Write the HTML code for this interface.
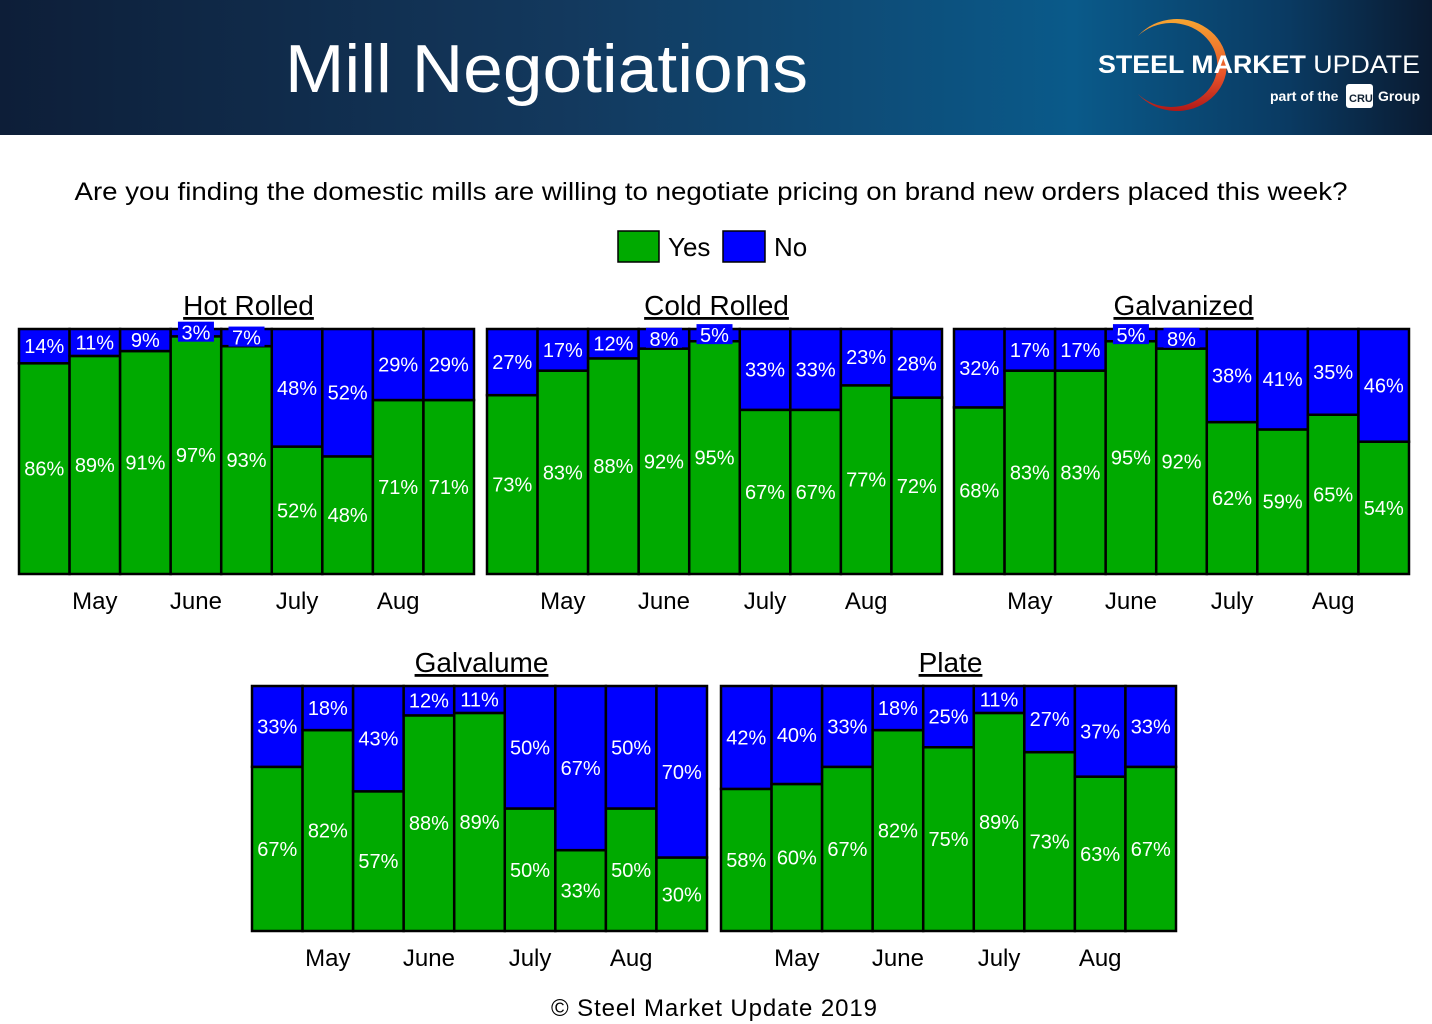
<!DOCTYPE html>
<html><head><meta charset="utf-8"><style>
body{margin:0;width:1432px;height:1024px;background:#fff;font-family:"Liberation Sans",sans-serif;overflow:hidden;position:relative}
#hdr{position:absolute;left:0;top:0;width:1432px;height:135px;background:linear-gradient(90deg,#0d1e38 0%,#13395e 40%,#0a5a8a 75%,#0a3a62 90%,#0a1a30 100%)}
</style></head><body>
<div id="hdr">
<svg width="900" height="135" style="position:absolute;left:0;top:0">
<text x="285" y="92" fill="#fff" font-size="68" textLength="523" lengthAdjust="spacingAndGlyphs">Mill Negotiations</text>
</svg>
<svg width="360" height="135" style="position:absolute;left:1072px;top:0">
<defs><linearGradient id="lg" x1="0" y1="0" x2="0" y2="1"><stop offset="0" stop-color="#f7a531"/><stop offset="0.6" stop-color="#e8542a"/><stop offset="1" stop-color="#b01818"/></linearGradient></defs>
<path d="M66 36 A50 46 0 1 1 66 94 A46 42 0 1 0 66 36 Z" fill="url(#lg)"/>
<text x="26" y="73" fill="#fff" font-size="25" font-weight="bold" textLength="322" lengthAdjust="spacingAndGlyphs">STEEL MARKET <tspan font-weight="normal">UPDATE</tspan></text>
<text x="198" y="101" fill="#fff" font-size="14" font-weight="bold">part of the</text>
<rect x="274" y="84" width="27" height="24" rx="3" fill="#fff"/>
<text x="277" y="102" fill="#123" font-size="11" font-weight="bold">CRU</text>
<text x="306" y="101" fill="#fff" font-size="14" font-weight="bold">Group</text>
</svg>
</div>
<svg id="main" width="1432" height="1024" style="position:absolute;left:0;top:0"></svg>
<script>
const months=["May","June","July","Aug"];
const titles=["Hot Rolled","Cold Rolled","Galvanized","Galvalume","Plate"];
const yesHR=[86,89,91,97,93,52,48,71,71];
const noHR=[14,11,9,3,7,48,52,29,29];
const yesCR=[73,83,88,92,95,67,67,77,72];
const noCR=[27,17,12,8,5,33,33,23,28];
const yesGV=[68,83,83,95,92,62,59,65,54];
const noGV=[32,17,17,5,8,38,41,35,46];
const yesGL=[67,82,57,88,89,50,33,50,30];
const noGL=[33,18,43,12,11,50,67,50,70];
const yesPL=[58,60,67,82,75,89,73,63,67];
const noPL=[42,40,33,18,25,11,27,37,33];
const yesAll=[yesHR,yesCR,yesGV,yesGL,yesPL];
const noAll=[noHR,noCR,noGV,noGL,noPL];
const frames=[[19,329],[487,329],[954,329],[252,686],[721,686]];
const W=455,H=245;
const NS="http://www.w3.org/2000/svg";
const svg=document.getElementById('main');
function mk(t,a,p){const e=document.createElementNS(NS,t);for(const k in a)e.setAttribute(k,a[k]);(p||svg).appendChild(e);return e;}
function txt(x,y,s,size,p,anchor){const e=mk('text',{x:x,y:y,'font-size':size,'text-anchor':anchor||'middle',fill:'#000'},p);e.textContent=s;return e;}
let t=txt(711,200,"Are you finding the domestic mills are willing to negotiate pricing on brand new orders placed this week?",25);
t.setAttribute('textLength','1273');
t.setAttribute('lengthAdjust','spacingAndGlyphs');


let lg=mk('g',{});


let le1=mk('g',{},lg);


mk('rect',{x:618,y:231,width:41,height:31,fill:'#00aa00',stroke:'#000','stroke-width':1.5},le1);
txt(668,256,"Yes",26,le1,'start');
let le2=mk('g',{},lg);


mk('rect',{x:723,y:231,width:42,height:31,fill:'#0000ff',stroke:'#000','stroke-width':1.5},le2);
txt(774,256,"No",26,le2,'start');
t=txt(714,1016,"© Steel Market Update 2019",24);
t.setAttribute('textLength','326');


for(let c=0;c<5;c++){
  const [x0,y0]=frames[c];const yes=yesAll[c],no=noAll[c];const n=yes.length;const bw=W/n;
  const g=mk('g',{});
  
  
  const y=v=>y0+H-v/100*H;
  const labels=[];
  for(let i=0;i<n;i++){
    const bx=x0+i*bw;
    const tot=yes[i]+no[i];
    const yv=yes[i]/tot*100;
    const r1=mk('rect',{x:bx,y:y(yv),width:bw,height:y0+H-y(yv),fill:'#00aa00',stroke:'#000','stroke-width':2.5},g);
    
    
    const r2=mk('rect',{x:bx,y:y0,width:bw,height:y(yv)-y0,fill:'#0000ff',stroke:'#000','stroke-width':2.5},g);
    
    
    labels.push([bx+bw/2,(y(yv)+y0+H)/2,(y0+y(yv))/2,y(yv)-y0,yes[i],no[i]]);
  }
  mk('rect',{x:x0,y:y0,width:W,height:H,fill:'none',stroke:'#000','stroke-width':2},g);
  for(const [cx,gy,by,bh,yv,nv] of labels){
    const l1=txt(cx,gy+7,yv+"%",20,g);l1.setAttribute('fill','#fff');
    
    
    if(bh<22){mk('rect',{x:cx-18,y:by-11,width:36,height:20,fill:'#0000ff'},g);}
    const l2=txt(cx,by+7,nv+"%",20,g);l2.setAttribute('fill','#fff');
    
    
  }
  for(let m=0;m<months.length;m++){
    const ml=txt(x0+(1.5+2*m)*bw,y0+H+35,months[m],24,g);
    
    
  }
  const tt=txt(x0+W/2+2,y0-14,titles[c],28,g);
  tt.setAttribute('text-decoration','underline');
  
  
}
</script>
</body></html>
